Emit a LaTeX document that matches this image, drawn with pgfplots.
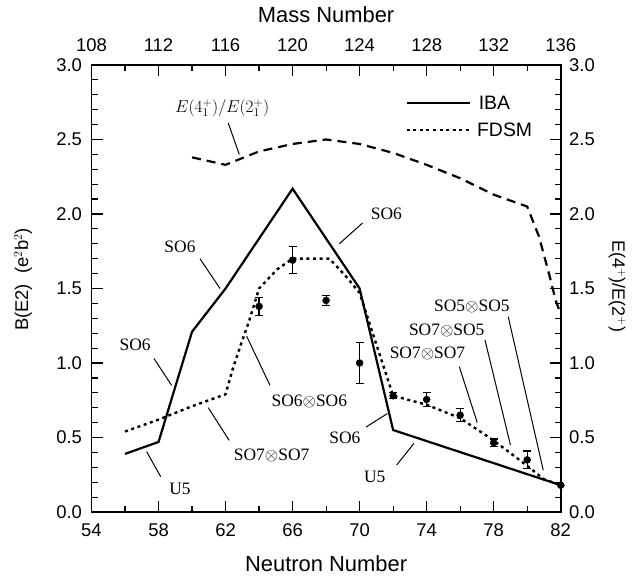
\documentclass[border=0pt]{standalone}
\usepackage{fontspec}
\setmainfont{Liberation Sans}
\newfontfamily\tms{Liberation Serif}
\usepackage{pgfplots}
\pgfplotsset{compat=1.18}
\pgfplotstableread{
x y e
64 1.38 0.06
66 1.69 0.09
68 1.42 0.035
70 1.00 0.14
72 0.78 0.02
74 0.755 0.045
76 0.65 0.045
78 0.465 0.025
80 0.35 0.06
82 0.18 0.0
}\expdata
\begin{document}
\begin{tikzpicture}
\useasboundingbox (-91.5bp,-67bp) rectangle (542.5bp,512bp);
\begin{axis}[
  at={(0,0)}, anchor=south west,
  scale only axis, width=469.2bp, height=447bp,
  xmin=54, xmax=82, ymin=0, ymax=3,
  xtick={54,58,...,82}, minor x tick num=1,
  ytick={0,0.5,...,3}, minor y tick num=4,
  tick align=inside,
  major tick length=11bp, minor tick length=6bp,
  axis line style={line width=1.6bp},
  every tick/.style={line width=1.2bp, black},
  /pgf/number format/assume math mode=true,
  tick label style={font=\fontsize{18.5}{18.5}\selectfont},
  yticklabel style={/pgf/number format/fixed, /pgf/number format/fixed zerofill, /pgf/number format/precision=1, xshift=-6bp},
  xticklabel style={yshift=-8bp},
  xlabel={Neutron Number},
  xlabel style={font=\fontsize{22}{22}\selectfont, at={(axis description cs:0.5,0)}, anchor=center, yshift=-52bp},
  ylabel={B(E2)\ \ (e$^2$b$^2$)},
  ylabel style={font=\fontsize{18.5}{18.5}\selectfont, at={(axis description cs:-0.146,0.52)}, anchor=center},
  clip=false,
]
% IBA
\addplot[black, line width=2.2bp] coordinates {
(56,0.39) (58,0.47) (60,1.21) (62,1.50) (66,2.17) (70,1.50) (72,0.55) (82,0.18)};
% FDSM
\addplot[black, line width=2.4bp, dash pattern=on 3bp off 3.6bp] coordinates {
(56,0.54) (58,0.62) (60,0.71) (62,0.79) (62.4,0.95) (62.9,1.12) (63.4,1.28) (64,1.50) (64.5,1.56) (65.1,1.63) (66,1.70) (68.2,1.70) (69.2,1.58) (70,1.47) (72,0.78) (74,0.72) (76,0.63) (78,0.48) (80,0.31) (81,0.22) (82,0.18)};
% E(4+)/E(2+)
\addplot[black, line width=2.2bp, dash pattern=on 9bp off 6bp] coordinates {
(60,2.38) (62,2.33) (64,2.42) (66,2.47) (68,2.50) (70,2.47) (72,2.41) (74,2.33) (76,2.24) (78,2.13) (80,2.05) (80.7,1.85) (81.3,1.60) (81.7,1.42) (82,1.33)};
% experimental data
\addplot[black, only marks, mark=*, mark size=3.5bp,
  error bars/.cd, y dir=both, y explicit,
  error bar style={line width=1.2bp},
  error mark options={rotate=90, mark size=4bp, line width=1.2bp}]
  table[x=x, y=y, y error=e] {\expdata};

% legend
\draw[line width=2bp] (axis cs:72.8,2.745) -- (axis cs:76.6,2.745);
\node[anchor=west, font=\fontsize{19.5}{19.5}\selectfont, inner sep=0pt] at (axis cs:77.1,2.745) {IBA};
\draw[line width=2bp, dash pattern=on 3bp off 3.6bp] (axis cs:72.8,2.567) -- (axis cs:76.6,2.567);
\node[anchor=west, font=\fontsize{19.5}{19.5}\selectfont, inner sep=0pt] at (axis cs:77.0,2.567) {FDSM};

% annotations
\begin{scope}[every node/.style={font=\tms\fontsize{17.5}{17.5}\selectfont, inner sep=0pt}]
\node at (axis cs:61.8,2.71) {$E(4^+_1)/E(2^+_1)$};
\draw[line width=1bp] (axis cs:62.16,2.61) -- (axis cs:62.82,2.40);
\node at (axis cs:59.28,1.78) {SO6};
\draw[line width=1bp] (axis cs:60.47,1.70) -- (axis cs:61.67,1.50);
\node at (axis cs:71.6,2.00) {SO6};
\draw[line width=1bp] (axis cs:70.18,1.94) -- (axis cs:68.79,1.80);
\node at (axis cs:56.6,1.12) {SO6};
\draw[line width=1bp] (axis cs:57.73,1.03) -- (axis cs:58.78,0.85);
\node at (axis cs:67.0,0.74) {SO6$\otimes$SO6};
\draw[line width=1bp] (axis cs:63.26,1.18) -- (axis cs:64.65,0.85);
\node at (axis cs:64.75,0.38) {SO7$\otimes$SO7};
\draw[line width=1bp] (axis cs:60.97,0.70) -- (axis cs:62.22,0.48);
\node at (axis cs:59.28,0.152) {U5};
\draw[line width=1bp] (axis cs:57.29,0.405) -- (axis cs:58.13,0.237);
\node at (axis cs:69.12,0.495) {SO6};
\draw[line width=1bp] (axis cs:70.38,0.57) -- (axis cs:71.65,0.66);
\node at (axis cs:70.9,0.237) {U5};
\draw[line width=1bp] (axis cs:72.21,0.315) -- (axis cs:73.24,0.46);
\node at (axis cs:74.05,1.065) {SO7$\otimes$SO7};
\draw[line width=1bp] (axis cs:75.95,0.975) -- (axis cs:77.02,0.60);
\node at (axis cs:75.2,1.22) {SO7$\otimes$SO5};
\draw[line width=1bp] (axis cs:77.48,1.155) -- (axis cs:79.0,0.45);
\node at (axis cs:76.7,1.378) {SO5$\otimes$SO5};
\draw[line width=1bp] (axis cs:78.87,1.31) -- (axis cs:80.96,0.28);
\end{scope}
\end{axis}
\begin{axis}[
  at={(0,0)}, anchor=south west,
  scale only axis, width=469.2bp, height=447bp,
  xmin=108, xmax=136, ymin=0, ymax=3,
  xtick={108,112,...,136}, ytick={0,0.5,...,3},
  axis x line*=top, axis y line*=right,
  axis line style={draw=none, -},
  tick style={draw=none},
  /pgf/number format/assume math mode=true,
  tick label style={font=\fontsize{18.5}{18.5}\selectfont},
  yticklabel style={/pgf/number format/fixed, /pgf/number format/fixed zerofill, /pgf/number format/precision=1, xshift=5bp},
  xticklabel style={yshift=10bp},
  xlabel={Mass Number},
  xlabel style={font=\fontsize{22}{22}\selectfont, at={(axis description cs:0.5,1)}, anchor=center, yshift=50bp},
  ylabel={E(4$^+$)/E(2$^+$)},
  ylabel style={font=\fontsize{18}{18}\selectfont, at={(axis description cs:1.12,0.505)}, anchor=center, rotate=180},
]
\end{axis}
\end{tikzpicture}
\end{document}
